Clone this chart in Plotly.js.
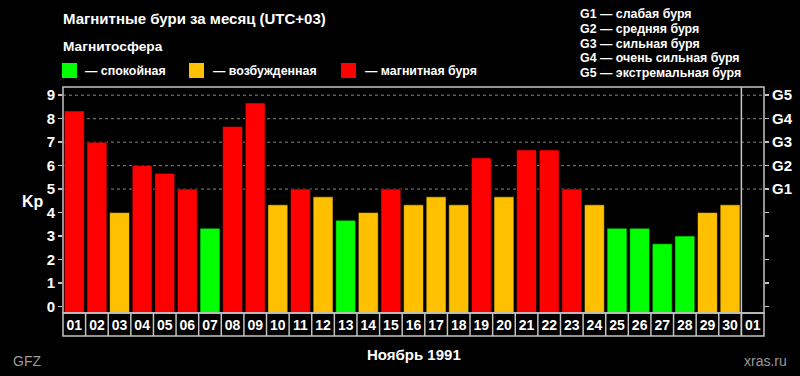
<!DOCTYPE html>
<html>
<head>
<meta charset="utf-8">
<script src="https://cdn.plot.ly/plotly-3.0.1.min.js"></script>
<style>
  html, body { margin: 0; padding: 0; background: #000; }
  #chart { width: 800px; height: 376px; }
</style>
</head>
<body>
<div id="chart"></div>
<script>
// Kp index, November 1991 (daily maximum), plus the first day of the next month
const dayLabels = ['01','02','03','04','05','06','07','08','09','10',
                   '11','12','13','14','15','16','17','18','19','20',
                   '21','22','23','24','25','26','27','28','29','30','01'];
const kpValues = [8.33, 7, 4, 6, 5.67, 5, 3.33, 7.67, 8.67, 4.33,
                  5, 4.67, 3.67, 4, 5, 4.33, 4.67, 4.33, 6.33, 4.67,
                  6.67, 6.67, 5, 4.33, 3.33, 3.33, 2.67, 3, 4, 4.33];
const kpTicks = [0, 1, 2, 3, 4, 5, 6, 7, 8, 9];
const gScale = ['', '', '', '', '', 'G1', 'G2', 'G3', 'G4', 'G5'];
const gLevels = [5, 6, 7, 8, 9];
const gNotes = ['G1 — слабая буря', 'G2 — средняя буря', 'G3 — сильная буря',
                'G4 — очень сильная буря', 'G5 — экстремальная буря'];
const stateNames = ['— спокойная', '— возбужденная', '— магнитная буря'];
const stateColors = ['#00FF00', '#FFC000', '#FF0000'];

const KP_FLOOR = -0.28, KP_CEIL = 9.35;
const FONT = 'Liberation Sans, Arial, sans-serif';

// plot area in pixels
const M = { l: 63, r: 36, t: 87, b: 63 };
const W = 800, H = 376;
const PW = W - M.l - M.r, PH = H - M.t - M.b;
const px = x => (x - M.l) / PW;
const py = y => (H - M.b - y) / PH;

function stateOf(v) { return v >= 5 ? 2 : (v >= 4 ? 1 : 0); }

const xIdx = kpValues.map((_, i) => i);
const barTrace = {
  type: 'bar',
  x: xIdx,
  y: kpValues.map(v => v - KP_FLOOR),
  base: kpValues.map(() => KP_FLOOR),
  customdata: kpValues,
  hovertemplate: 'Kp %{customdata}<extra></extra>',
  marker: {
    color: kpValues.map(v => stateColors[stateOf(v)]),
    line: { color: 'rgba(0,0,0,0.55)', width: 1 }
  },
  showlegend: false
};
// invisible trace carrying the right-hand G scale
const gTrace = {
  type: 'scatter', x: [0], y: [0], yaxis: 'y2', mode: 'markers',
  marker: { opacity: 0 }, hoverinfo: 'skip', showlegend: false
};

const frame = '#c4c4c4';
const rowH = 23 / PH;
const shapes = [];
// dotted storm-level grid
gLevels.forEach(g => shapes.push({
  type: 'line', xref: 'paper', yref: 'y', x0: 0, x1: 1, y0: g, y1: g,
  line: { color: '#858585', width: 1, dash: 'dot' }, layer: 'below'
}));
// plot frame
shapes.push({ type: 'rect', xref: 'paper', yref: 'paper', x0: 0, x1: 1, y0: 0, y1: 1,
  line: { color: frame, width: 1.5 } });
// month boundary
shapes.push({ type: 'line', xref: 'x', yref: 'paper', x0: kpValues.length - 0.5, x1: kpValues.length - 0.5,
  y0: -rowH, y1: 1, line: { color: frame, width: 1.5 } });
// day label boxes
shapes.push({ type: 'rect', xref: 'paper', yref: 'paper', x0: 0, x1: 1, y0: -rowH, y1: 0,
  line: { color: frame, width: 1.5 } });
for (let i = 1; i < dayLabels.length; i++) {
  shapes.push({ type: 'line', xref: 'x', yref: 'paper', x0: i - 0.5, x1: i - 0.5, y0: -rowH, y1: 0,
    line: { color: frame, width: 1.5 } });
}
// legend swatches
const swatchX = [62, 189, 341];
const textX = [83, 211, 363];
stateColors.forEach((c, i) => shapes.push({
  type: 'rect', xref: 'paper', yref: 'paper',
  x0: px(swatchX[i]), x1: px(swatchX[i] + 15), y0: py(78), y1: py(63),
  fillcolor: c, line: { width: 0 }
}));

const white = '#ffffff';
const annotations = [
  { text: 'Магнитные бури за месяц (UTC+03)', x: px(61), y: py(18), size: 15 },
  { text: 'Магнитосфера', x: px(61), y: py(47), size: 13.7 },
  { text: 'Kp', x: px(20), y: py(201), size: 16 },
  { text: 'Ноябрь 1991', x: px(414), y: py(354), size: 15, xanchor: 'center' },
  { text: 'GFZ', x: px(11), y: py(361), size: 14, color: '#9a9a9a', bold: false },
  { text: 'xras.ru', x: px(789), y: py(361), size: 14, color: '#9a9a9a', xanchor: 'right', bold: false }
];
stateNames.forEach((t, i) => annotations.push({ text: t, x: px(textX[i]), y: py(71), size: 12.4 }));
gNotes.forEach((t, i) => annotations.push({ text: t, x: px(578), y: py(14 + i * 14.8), size: 12.4 }));

const layout = {
  width: W, height: H,
  margin: M,
  paper_bgcolor: '#000', plot_bgcolor: '#000',
  bargap: 0.12,
  font: { family: FONT, color: white },
  xaxis: {
    range: [-0.5, dayLabels.length - 0.5],
    tickvals: dayLabels.map((_, i) => i),
    ticktext: dayLabels,
    tickfont: { family: FONT, size: 14, color: white, weight: 'bold' },
    ticks: '', showgrid: false, zeroline: false, showline: false,
    ticklabelstandoff: 2, fixedrange: true
  },
  yaxis: {
    range: [KP_FLOOR, KP_CEIL],
    tickvals: kpTicks, ticktext: kpTicks.map(String),
    ticks: 'outside', ticklen: 4, tickcolor: frame, tickwidth: 1.5,
    tickfont: { family: FONT, size: 15, color: white, weight: 'bold' },
    showgrid: false, zeroline: false, showline: false, fixedrange: true
  },
  yaxis2: {
    overlaying: 'y', side: 'right',
    range: [KP_FLOOR, KP_CEIL],
    tickvals: kpTicks, ticktext: gScale,
    ticks: 'outside', ticklen: 4, tickcolor: frame, tickwidth: 1.5,
    tickfont: { family: FONT, size: 15, color: white, weight: 'bold' },
    showgrid: false, zeroline: false, showline: false, fixedrange: true
  },
  shapes: shapes,
  annotations: annotations.map(a => ({
    text: a.text, xref: 'paper', yref: 'paper', x: a.x, y: a.y,
    xanchor: a.xanchor || 'left', yanchor: 'middle', showarrow: false,
    font: { family: FONT, size: a.size, color: a.color || white, weight: a.bold === false ? 'normal' : 'bold' }
  })),
  showlegend: false
};

Plotly.newPlot('chart', [barTrace, gTrace], layout, { displayModeBar: false, staticPlot: true });
</script>
</body>
</html>
